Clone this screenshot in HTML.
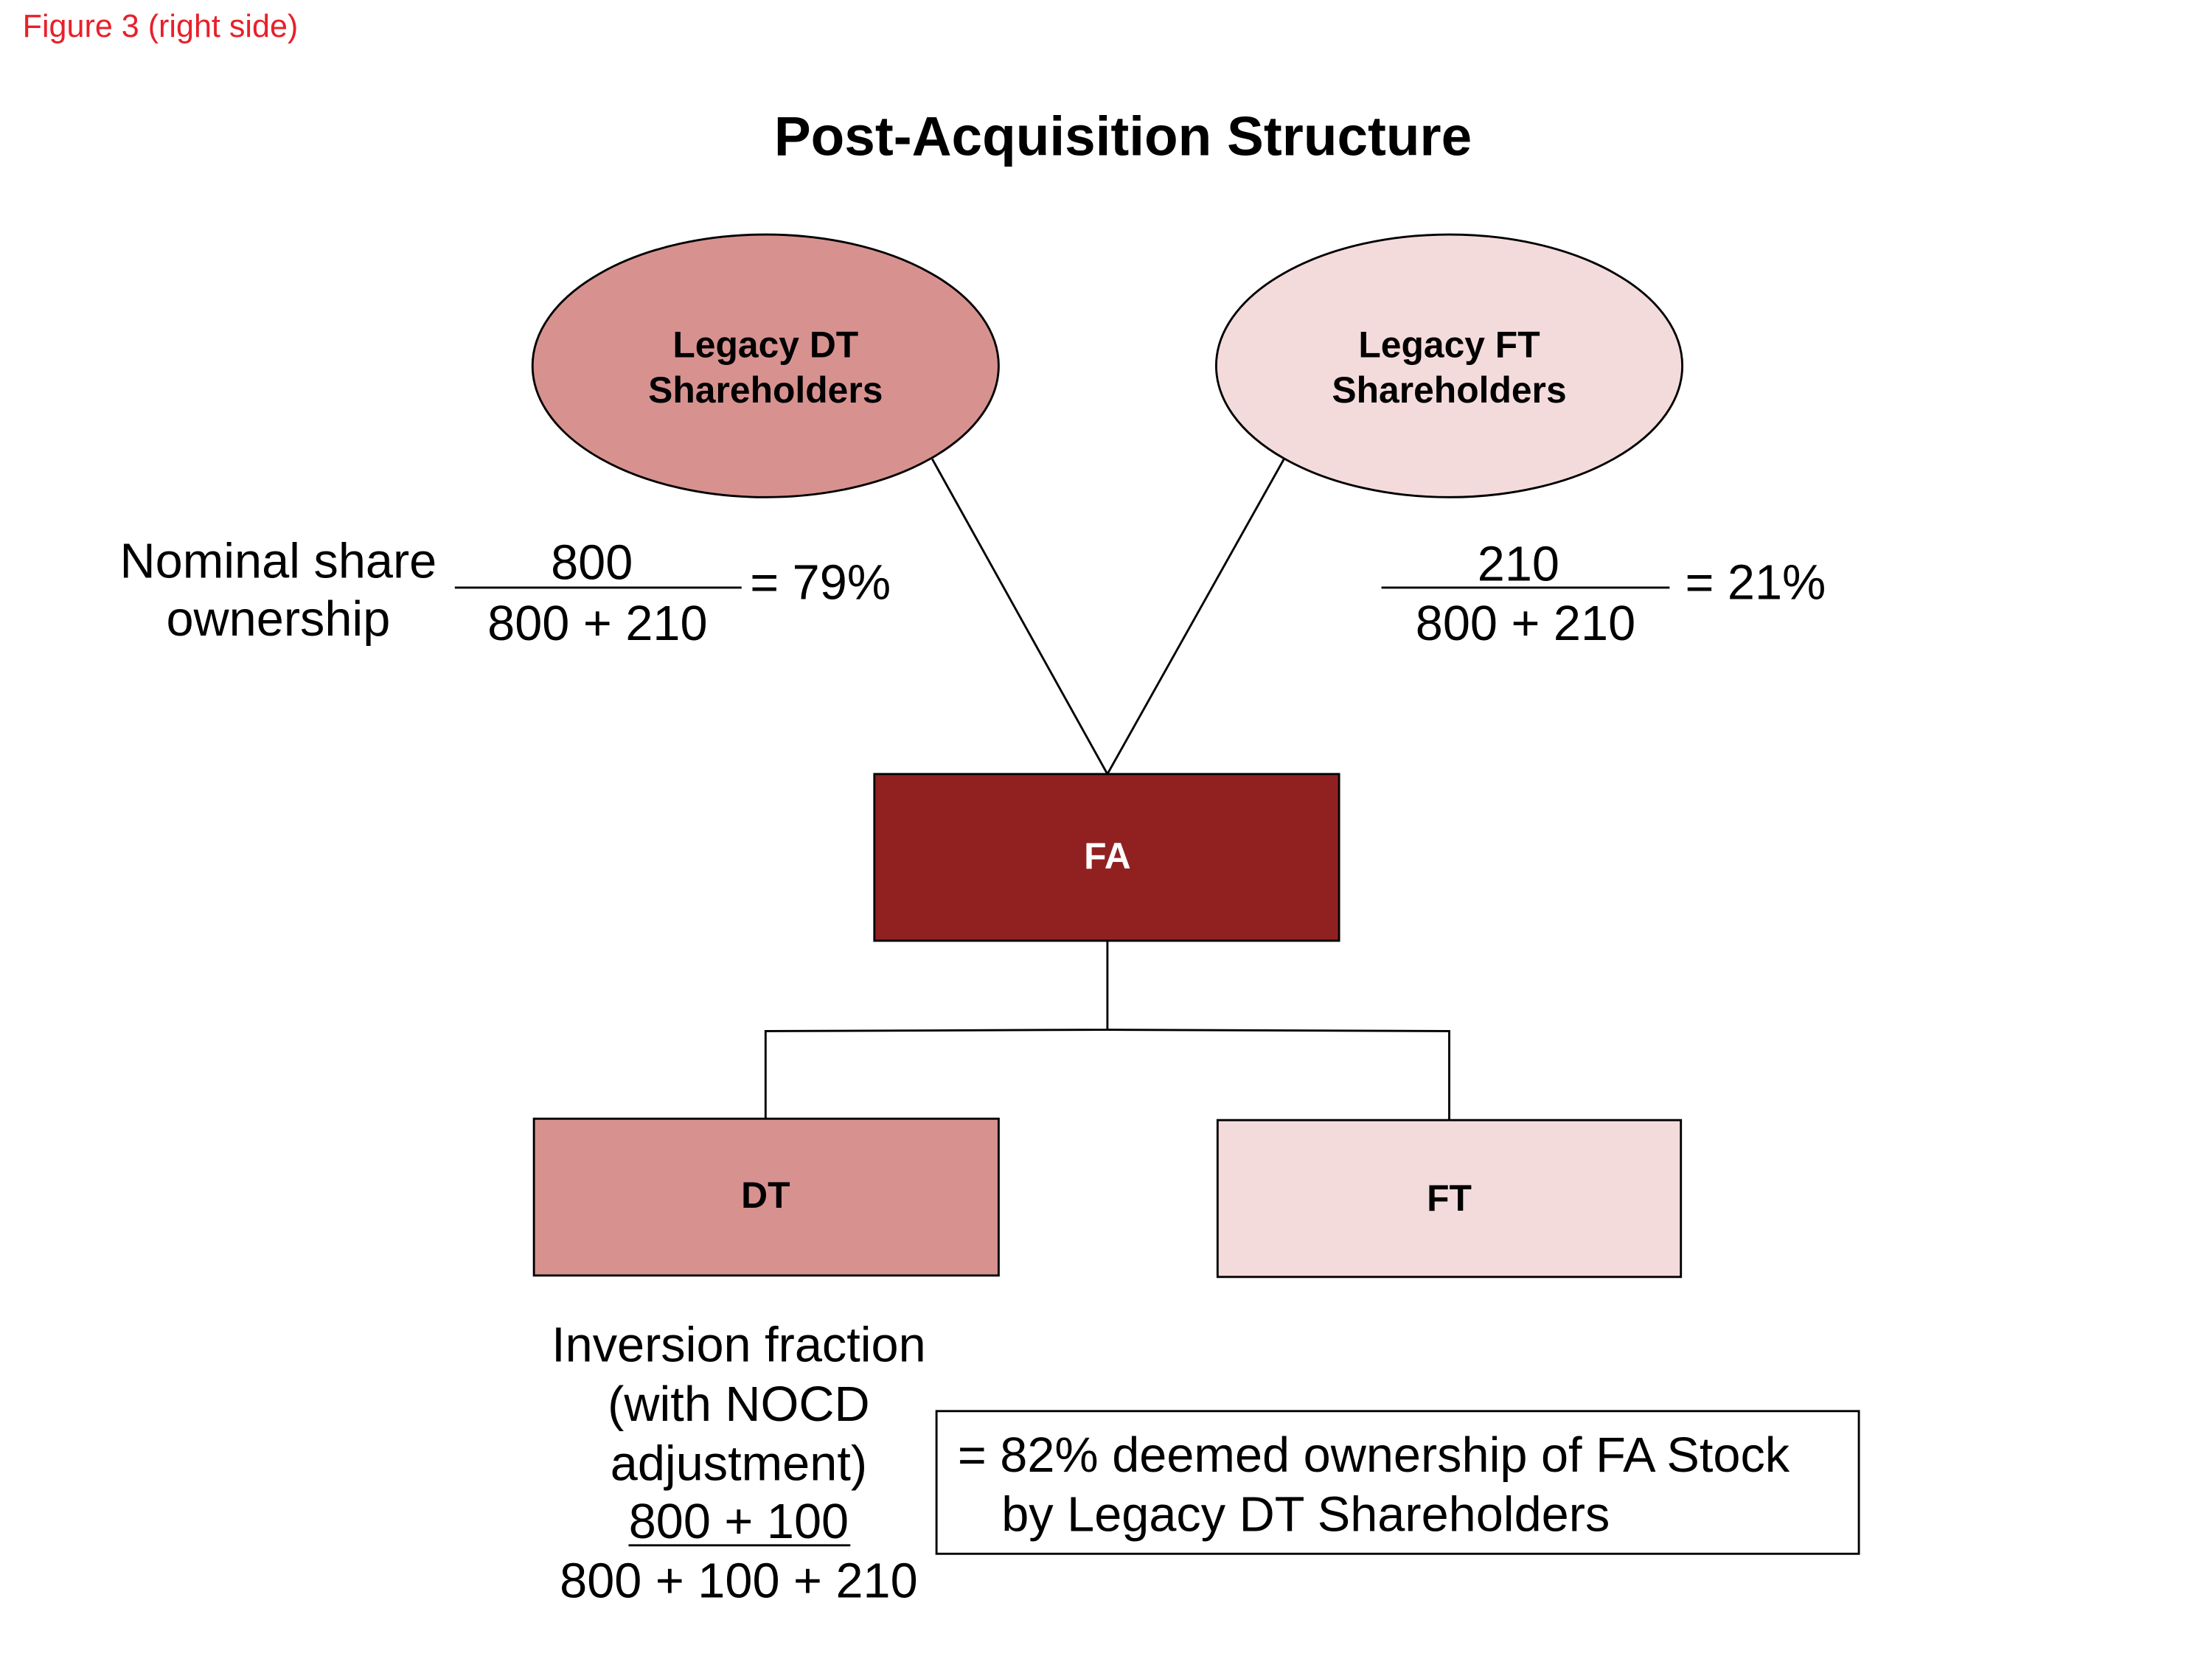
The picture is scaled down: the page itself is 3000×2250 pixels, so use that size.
<!DOCTYPE html>
<html><head><meta charset="utf-8"><style>
html,body{margin:0;padding:0;background:#fff;}
svg{display:block;}
text{font-family:"Liberation Sans",Arial,sans-serif;}
</style></head><body>
<svg width="3000" height="2250" viewBox="0 0 1566 1174.5" xmlns="http://www.w3.org/2000/svg">
<rect width="1566" height="1174.5" fill="#fff"/>
<text x="16" y="26" font-size="22.5" fill="#e8202a">Figure 3 (right side)</text>
<text x="795" y="110" font-size="39" font-weight="bold" text-anchor="middle">Post-Acquisition Structure</text>
<ellipse cx="542" cy="259" rx="165" ry="93" fill="#d79290" stroke="#000" stroke-width="1.5"/>
<ellipse cx="1026" cy="259" rx="165" ry="93" fill="#f4dbdb" stroke="#000" stroke-width="1.5"/>
<g font-size="26" font-weight="bold" text-anchor="middle">
<text x="542" y="253">Legacy DT</text><text x="542" y="285">Shareholders</text>
<text x="1026" y="253">Legacy FT</text><text x="1026" y="285">Shareholders</text>
</g>
<g stroke="#000" stroke-width="1.5" fill="none">
<line x1="660" y1="325" x2="784" y2="548"/>
<line x1="909" y1="325" x2="784" y2="548"/>
<polyline points="784,666 784,729 542,730 542,792"/>
<polyline points="784,729 1026,730 1026,793"/>
<line x1="322" y1="416" x2="525" y2="416"/>
<line x1="978" y1="416" x2="1182" y2="416"/>
<line x1="445" y1="1094" x2="602" y2="1094"/>
</g>
<rect x="619" y="548" width="329" height="118" fill="#912121" stroke="#000" stroke-width="1.5"/>
<rect x="378" y="792" width="329" height="111" fill="#d79290" stroke="#000" stroke-width="1.5"/>
<rect x="862" y="793" width="328" height="111" fill="#f4dbdb" stroke="#000" stroke-width="1.5"/>
<g font-size="26" font-weight="bold" text-anchor="middle">
<text x="784" y="615" fill="#fff">FA</text>
<text x="542" y="855">DT</text>
<text x="1026" y="857">FT</text>
</g>
<g font-size="34.8">
<text x="197" y="409" text-anchor="middle">Nominal share</text>
<text x="197" y="450" text-anchor="middle">ownership</text>
<text x="419" y="410" text-anchor="middle">800</text>
<text x="423" y="453" text-anchor="middle">800 + 210</text>
<text x="531" y="424">= 79%</text>
<text x="1075" y="411" text-anchor="middle">210</text>
<text x="1080" y="453" text-anchor="middle">800 + 210</text>
<text x="1193" y="424">= 21%</text>
<text x="523" y="964" text-anchor="middle">Inversion fraction</text>
<text x="523" y="1006" text-anchor="middle">(with NOCD</text>
<text x="523" y="1048" text-anchor="middle">adjustment)</text>
<text x="523" y="1089" text-anchor="middle">800 + 100</text>
<text x="523" y="1131" text-anchor="middle">800 + 100 + 210</text>
</g>
<rect x="663" y="999" width="653" height="101" fill="#fff" stroke="#000" stroke-width="1.5"/>
<g font-size="34.8">
<text x="678" y="1042">= 82% deemed ownership of FA Stock</text>
<text x="709" y="1084">by Legacy DT Shareholders</text>
</g>
</svg>
</body></html>
